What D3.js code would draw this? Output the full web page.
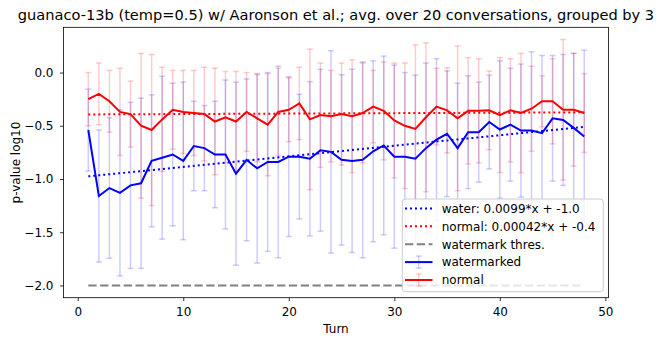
<!DOCTYPE html>
<html>
<head>
<meta charset="utf-8">
<script src="https://cdn.jsdelivr.net/npm/d3@7"></script>
<style>
  body { margin: 0; background: #fff; }
  svg text { font-family: "DejaVu Sans", sans-serif; fill: #000; }
</style>
</head>
<body>
<svg id="chart" width="665" height="344"></svg>
<script>
// turns 1..48
var turns = d3.range(1, 49);

// watermarked (blue), mean and error of log10 p-value
var waterMean = [-0.54, -1.16, -1.085, -1.13, -1.06, -1.04, -0.83, -0.80, -0.77, -0.83,
  -0.69, -0.71, -0.77, -0.77, -0.95, -0.82, -0.90, -0.84, -0.84, -0.79,
  -0.79, -0.81, -0.73, -0.745, -0.82, -0.83, -0.82, -0.74, -0.685, -0.79,
  -0.79, -0.81, -0.71, -0.63, -0.575, -0.71, -0.56, -0.56, -0.465, -0.535,
  -0.49, -0.545, -0.545, -0.57, -0.43, -0.445, -0.52, -0.60];
var waterErr = [0.385, 0.62, 0.66, 0.78, 0.78, 0.80, 0.62, 0.765, 0.67, 0.74,
  0.42, 0.40, 0.50, 0.70, 0.86, 0.76, 0.89, 0.84, 0.90, 0.75,
  0.585, 0.725, 0.76, 0.95, 0.80, 0.86, 0.92, 0.85, 0.84, 0.86,
  0.79, 0.785, 0.80, 0.76, 0.59, 0.61, 0.53, 0.47, 0.44, 0.645,
  0.53, 0.625, 0.74, 0.73, 0.59, 0.615, 0.70, 0.81];

// normal (red)
var normalMean = [-0.25, -0.20, -0.27, -0.37, -0.39, -0.50, -0.54, -0.44, -0.35, -0.37,
  -0.38, -0.39, -0.46, -0.42, -0.46, -0.37, -0.43, -0.49, -0.37, -0.35,
  -0.29, -0.44, -0.40, -0.41, -0.39, -0.41, -0.38, -0.32, -0.36, -0.45,
  -0.50, -0.53, -0.42, -0.32, -0.355, -0.43, -0.36, -0.36, -0.355, -0.40,
  -0.355, -0.38, -0.34, -0.27, -0.27, -0.35, -0.35, -0.38];
var normalErr = [0.25, 0.29, 0.29, 0.41, 0.31, 0.68, 0.71, 0.49, 0.37, 0.39,
  0.40, 0.44, 0.50, 0.43, 0.47, 0.37, 0.41, 0.48, 0.41, 0.30,
  0.34, 0.66, 0.49, 0.43, 0.48, 0.53, 0.47, 0.34, 0.46, 0.54,
  0.59, 0.79, 0.70, 0.36, 0.40, 0.68, 0.50, 0.49, 0.37, 0.54,
  0.485, 0.56, 0.40, 0.24, 0.40, 0.66, 0.53, 0.37];

// linear fits [slope, intercept] and threshold
var waterFit = [0.0099, -0.985];
var normalFit = [0.00042, -0.394];
var threshold = -2.0;

var xTicks = [0, 10, 20, 30, 40, 50];
var yTicks = [-2.0, -1.5, -1.0, -0.5, 0.0];
var legendLabels = ["water: 0.0099*x + -1.0", "normal: 0.00042*x + -0.4",
  "watermark thres.", "watermarked", "normal"];
var titleText = "guanaco-13b (temp=0.5) w/ Aaronson et al.; avg. over 20 conversations, grouped by 3";

var plotL = 63.5, plotR = 608.5, plotT = 27.3, plotB = 297.7;
var tickFont = 12, legendFont = 12;
var svg = d3.select("#chart");

var x = d3.scaleLinear().domain([-1.35, 50.3]).range([plotL, plotR]);
var y = d3.scaleLinear().domain([-2.115, 0.425]).range([plotB, plotT]);
var fmt = function (d) { return d3.format(".1f")(d).replace("-", "\u2212"); };

// error bars
function errorBars(mean, err, color) {
  var g = svg.append("g")
    .attr("stroke", color).attr("stroke-opacity", 0.2).attr("stroke-width", 1.5);
  turns.forEach(function (t, i) {
    var lo = y(mean[i] - err[i]), hi = y(mean[i] + err[i]), cx = x(t);
    g.append("line").attr("x1", cx).attr("x2", cx).attr("y1", lo).attr("y2", hi);
    g.append("line").attr("x1", cx - 3).attr("x2", cx + 3).attr("y1", lo).attr("y2", lo);
    g.append("line").attr("x1", cx - 3).attr("x2", cx + 3).attr("y1", hi).attr("y2", hi);
  });
}
errorBars(waterMean, waterErr, "#0000ff");
errorBars(normalMean, normalErr, "#ff0000");

// fit lines
function fitLine(fit, color) {
  var x0 = turns[0], x1 = turns[turns.length - 1];
  svg.append("line")
    .attr("x1", x(x0)).attr("y1", y(fit[0] * x0 + fit[1]))
    .attr("x2", x(x1)).attr("y2", y(fit[0] * x1 + fit[1]))
    .attr("stroke", color).attr("stroke-width", 2).attr("stroke-dasharray", "2,3");
}
fitLine(waterFit, "#0000ff");
fitLine(normalFit, "#ff0000");

svg.append("line")
  .attr("x1", x(turns[0])).attr("x2", x(turns[turns.length - 1]))
  .attr("y1", y(threshold)).attr("y2", y(threshold))
  .attr("stroke", "#808080").attr("stroke-width", 2).attr("stroke-dasharray", "8.3,3.5");

// mean lines
var line = d3.line().x(function (d) { return x(d[0]); }).y(function (d) { return y(d[1]); });
svg.append("path").datum(d3.zip(turns, waterMean)).attr("d", line)
  .attr("fill", "none").attr("stroke", "#0000ff").attr("stroke-width", 2);
svg.append("path").datum(d3.zip(turns, normalMean)).attr("d", line)
  .attr("fill", "none").attr("stroke", "#ff0000").attr("stroke-width", 2);

// axes
var xAxis = svg.append("g").attr("transform", "translate(0," + plotB + ")")
  .call(d3.axisBottom(x).tickValues(xTicks).tickFormat(d3.format("d")).tickSize(3.5).tickPadding(6));
var yAxis = svg.append("g").attr("transform", "translate(" + plotL + ",0)")
  .call(d3.axisLeft(y).tickValues(yTicks).tickFormat(fmt).tickSize(3.5).tickPadding(6.5));
[xAxis, yAxis].forEach(function (a) {
  a.attr("font-size", null).attr("font-family", null);
  a.select(".domain").remove();
  a.selectAll(".tick line").attr("stroke", "#000").attr("stroke-width", 0.8);
  a.selectAll("text").style("font-size", tickFont + "px");
});

svg.append("rect").attr("x", plotL).attr("y", plotT)
  .attr("width", plotR - plotL).attr("height", plotB - plotT)
  .attr("fill", "none").attr("stroke", "#000").attr("stroke-width", 0.8);

// legend
var lg = svg.append("g");
lg.append("rect").attr("x", 402.3).attr("y", 199).attr("width", 201).attr("height", 92.7)
  .attr("rx", 3).attr("fill", "#fff").attr("fill-opacity", 0.8)
  .attr("stroke", "#cccccc").attr("stroke-width", 1);
var styles = [
  {color: "#0000ff", dash: "2,3", err: false},
  {color: "#ff0000", dash: "2,3", err: false},
  {color: "#808080", dash: "8.3,3.5", err: false},
  {color: "#0000ff", dash: null, err: true},
  {color: "#ff0000", dash: null, err: true}
];
legendLabels.forEach(function (label, i) {
  var cy = 208.4 + i * 17.9, s = styles[i];
  var row = lg.append("g");
  if (s.err) {
    var eg = row.append("g").attr("stroke", s.color).attr("stroke-opacity", 0.2).attr("stroke-width", 1.5);
    eg.append("line").attr("x1", 418.7).attr("x2", 418.7).attr("y1", cy - 6).attr("y2", cy + 6);
    eg.append("line").attr("x1", 415.7).attr("x2", 421.7).attr("y1", cy - 6).attr("y2", cy - 6);
    eg.append("line").attr("x1", 415.7).attr("x2", 421.7).attr("y1", cy + 6).attr("y2", cy + 6);
  }
  row.append("line").attr("x1", 405).attr("x2", 432.5).attr("y1", cy).attr("y2", cy)
    .attr("stroke", s.color).attr("stroke-width", 2).attr("stroke-dasharray", s.dash);
  row.append("text").attr("x", 441.7).attr("y", cy).attr("dy", "0.36em")
    .attr("font-size", legendFont).text(label);
});

// labels
svg.append("text").attr("x", (plotL + plotR) / 2).attr("y", 19.5)
  .attr("text-anchor", "middle").attr("font-size", 14.6).text(titleText);
svg.append("text").attr("x", (plotL + plotR) / 2).attr("y", 332.7)
  .attr("text-anchor", "middle").attr("font-size", tickFont).text("Turn");
svg.append("text").attr("transform", "translate(19.5," + (plotT + plotB) / 2 + ") rotate(-90)")
  .attr("text-anchor", "middle").attr("font-size", tickFont).text("p-value log10");
</script>
</body>
</html>
